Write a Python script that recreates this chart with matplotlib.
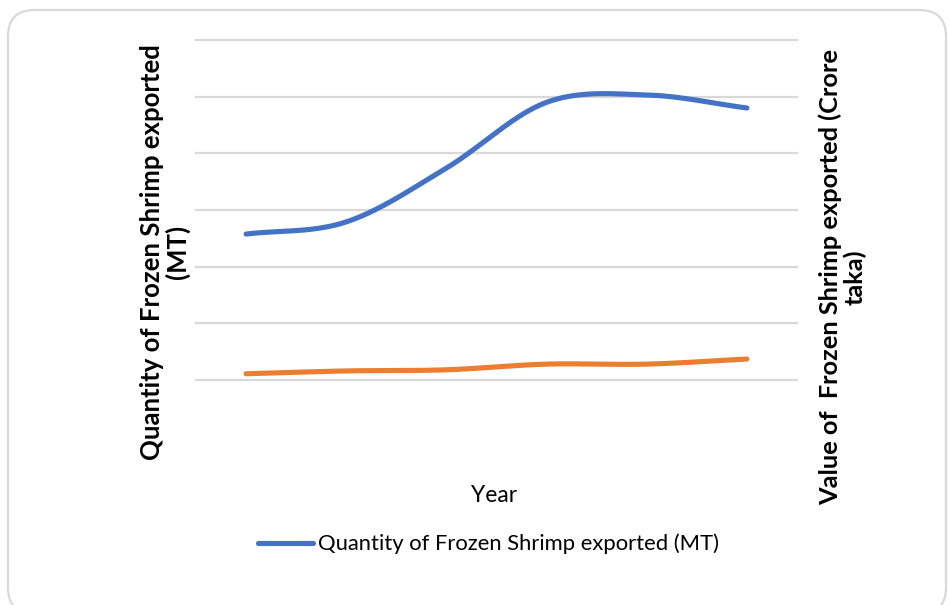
import numpy as np
import matplotlib
matplotlib.use("Agg")
import matplotlib.pyplot as plt
from matplotlib.patches import FancyBboxPatch
from matplotlib.lines import Line2D

# ---- data (gridline step = 10000) ----
categories = ["1", "2", "3", "4", "5", "6"]
quantity_mt = [25750, 27900, 37400, 49000, 50300, 48000]
value_crore = [1100, 1600, 1800, 2800, 2800, 3700]
y_ticks = [0, 10000, 20000, 30000, 40000, 50000, 60000]

BLUE = "#4472C4"
ORANGE = "#ED7D31"


def smooth(xs, ys, n=40):
    """Catmull-Rom style smoothing through the points (like Excel's smoothed line)."""
    xs = np.asarray(xs, float)
    ys = np.asarray(ys, float)
    px = np.concatenate([[2 * xs[0] - xs[1]], xs, [2 * xs[-1] - xs[-2]]])
    py = np.concatenate([[ys[0] - (ys[1] - ys[0])], ys, [ys[-1] + (ys[-1] - ys[-2])]])
    outx, outy = [], []
    for i in range(1, len(px) - 2):
        p0, p1, p2, p3 = py[i - 1], py[i], py[i + 1], py[i + 2]
        x0, x1, x2, x3 = px[i - 1], px[i], px[i + 1], px[i + 2]
        c1y = p1 + (p2 - p0) / 6.0
        c2y = p2 - (p3 - p1) / 6.0
        c1x = x1 + (x2 - x0) / 6.0
        c2x = x2 - (x3 - x1) / 6.0
        t = np.linspace(0, 1, n, endpoint=(i == len(px) - 3))
        bx = (1 - t) ** 3 * x1 + 3 * (1 - t) ** 2 * t * c1x + 3 * (1 - t) * t ** 2 * c2x + t ** 3 * x2
        by = (1 - t) ** 3 * p1 + 3 * (1 - t) ** 2 * t * c1y + 3 * (1 - t) * t ** 2 * c2y + t ** 3 * p2
        outx.extend(bx)
        outy.extend(by)
    return np.array(outx), np.array(outy)


W, H = 949, 605
fig = plt.figure(figsize=(W / 100, H / 100), dpi=100)
fig.patch.set_facecolor("white")

# rounded outer border (bottom edge runs off the image)
bx0, by_top, bx1, by_bot = 8, 10, 946, 614
border = FancyBboxPatch((bx0 / W, 1 - by_bot / H), (bx1 - bx0) / W, (by_bot - by_top) / H,
                        boxstyle="round,pad=0,rounding_size=0.028",
                        transform=fig.transFigure, facecolor="none",
                        edgecolor="#d9d9d9", linewidth=1.6, mutation_aspect=W / H,
                        zorder=-5)
fig.patches.append(border)

left, right = 196, 797
top, bottom = 40, 380
ax = fig.add_axes([left / W, 1 - bottom / H, (right - left) / W, (bottom - top) / H])
ax.set_facecolor("none")

x = np.arange(len(categories))
sx, sy = smooth(x, quantity_mt)
ax.plot(sx, sy, color=BLUE, lw=3.7, solid_capstyle="round", zorder=3)
sx2, sy2 = smooth(x, value_crore)
ax.plot(sx2, sy2, color=ORANGE, lw=3.7, solid_capstyle="round", zorder=3)

ax.set_xlim(-0.5, len(categories) - 0.5)
ax.set_ylim(y_ticks[0], y_ticks[-1])
ax.set_yticks(y_ticks)
ax.set_xticks([])
ax.tick_params(left=False, labelleft=False, bottom=False, labelbottom=False)
ax.grid(axis="y", color="#d9d9d9", lw=1.6, zorder=0)
for s in ax.spines.values():
    s.set_visible(False)
for ln in ax.get_ygridlines():
    ln.set_clip_on(False)

font = "Lato"
fig.text(165 / W, 1 - 252 / H, "Quantity of Frozen Shrimp exported\n(MT)",
         rotation=90, ha="center", va="center", fontsize=18.5, fontweight="bold",
         family=font, linespacing=1.05, multialignment="center")
fig.text(843 / W, 1 - 277 / H, "Value of  Frozen Shrimp exported (Crore\ntaka)",
         rotation=90, ha="center", va="center", fontsize=18.3, fontweight="bold",
         family=font, linespacing=1.05, multialignment="center")
fig.text(494 / W, 1 - 495 / H, "Year", ha="center", va="center",
         fontsize=16.5, family=font)

# legend (only the quantity series)
fig.lines.append(Line2D([258 / W, 313 / W], [1 - 543 / H, 1 - 543 / H],
                        transform=fig.transFigure, color=BLUE, lw=3.7,
                        solid_capstyle="round"))
fig.text(318 / W, 1 - 544 / H, "Quantity of Frozen Shrimp exported (MT)",
         ha="left", va="center", fontsize=15.8, family=font)

fig.savefig("out.png", dpi=100, facecolor="white")
